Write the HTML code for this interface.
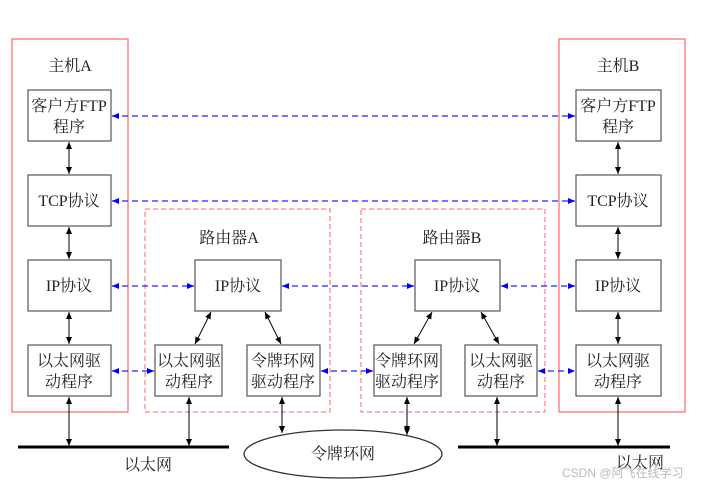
<!DOCTYPE html>
<html><head><meta charset="utf-8"><style>
body{margin:0;background:#fff}
text{font-family:"Liberation Serif","Noto Serif CJK SC",serif;fill:#222}
</style></head><body>
<svg width="702" height="485" viewBox="0 0 702 485" xmlns="http://www.w3.org/2000/svg">
<defs>
<marker id="k" markerWidth="8" markerHeight="8" refX="7" refY="4" orient="auto-start-reverse" markerUnits="userSpaceOnUse"><path d="M0,1 L7,4 L0,7 z" fill="#000"/></marker>
<marker id="b" markerWidth="8" markerHeight="8" refX="7" refY="4" orient="auto-start-reverse" markerUnits="userSpaceOnUse"><path d="M0,1 L7,4 L0,7 z" fill="#00f"/></marker>
</defs>
<rect x="12" y="39" width="116" height="373" fill="none" stroke="#f66" stroke-width="1.2"/>
<rect x="559" y="39" width="126" height="373" fill="none" stroke="#f66" stroke-width="1.2"/>
<rect x="145" y="209" width="185" height="203" fill="none" stroke="#f66" stroke-dasharray="5,3"/>
<rect x="361" y="209" width="184" height="203" fill="none" stroke="#f66" stroke-dasharray="5,3"/>
<g fill="#fff" stroke="#555" stroke-width="1.2">
<rect x="28" y="90" width="83" height="51"/><rect x="28" y="175" width="83" height="51"/>
<rect x="28" y="260" width="83" height="51"/><rect x="28" y="345" width="83" height="51"/>
<rect x="576" y="90" width="85" height="51"/><rect x="576" y="175" width="85" height="51"/>
<rect x="576" y="260" width="85" height="51"/><rect x="576" y="345" width="85" height="51"/>
<rect x="195" y="260" width="86" height="51"/><rect x="155" y="345" width="67" height="51"/><rect x="247" y="345" width="73" height="51"/>
<rect x="415" y="260" width="85" height="51"/><rect x="374" y="345" width="67" height="51"/><rect x="465" y="345" width="72" height="51"/>
</g>
<g font-size="16" text-anchor="middle">
<text x="70" y="71">主机A</text><text x="618" y="71">主机B</text>
<text x="229" y="243">路由器A</text><text x="452" y="243">路由器B</text>
<text x="69" y="111">客户方FTP</text><text x="69" y="132">程序</text>
<text x="618" y="111">客户方FTP</text><text x="618" y="132">程序</text>
<text x="69" y="206">TCP协议</text><text x="618" y="206">TCP协议</text>
<text x="69" y="291">IP协议</text><text x="618" y="291">IP协议</text>
<text x="238" y="291">IP协议</text><text x="457" y="291">IP协议</text>
<text x="69" y="366">以太网驱</text><text x="69" y="387">动程序</text>
<text x="618" y="366">以太网驱</text><text x="618" y="387">动程序</text>
<text x="189" y="366">以太网驱</text><text x="189" y="387">动程序</text>
<text x="501" y="366">以太网驱</text><text x="501" y="387">动程序</text>
<text x="283" y="366">令牌环网</text><text x="283" y="387">驱动程序</text>
<text x="407" y="366">令牌环网</text><text x="407" y="387">驱动程序</text>
<text x="148" y="470">以太网</text><text x="640" y="468">以太网</text>
</g>
<g stroke="#000" stroke-width="1" marker-start="url(#k)" marker-end="url(#k)">
<line x1="69" y1="142" x2="69" y2="174"/><line x1="69" y1="227" x2="69" y2="259"/><line x1="69" y1="312" x2="69" y2="344"/>
<line x1="618" y1="142" x2="618" y2="174"/><line x1="618" y1="227" x2="618" y2="259"/><line x1="618" y1="312" x2="618" y2="344"/>
<line x1="211" y1="312" x2="195" y2="344"/><line x1="265" y1="312" x2="281" y2="344"/>
<line x1="432" y1="312" x2="414" y2="344"/><line x1="481" y1="312" x2="499" y2="344"/>
<line x1="69" y1="397" x2="69" y2="446"/><line x1="189" y1="397" x2="189" y2="446"/>
<line x1="282" y1="397" x2="282" y2="433"/><line x1="407" y1="397" x2="407" y2="435"/>
<line x1="497" y1="397" x2="497" y2="446"/><line x1="618" y1="397" x2="618" y2="446"/>
</g>
<g stroke="#22f" stroke-width="1.2" stroke-dasharray="6,4" marker-start="url(#b)" marker-end="url(#b)">
<line x1="112" y1="116" x2="575" y2="116"/><line x1="112" y1="201" x2="575" y2="201"/>
<line x1="112" y1="286" x2="194" y2="286"/><line x1="282" y1="286" x2="414" y2="286"/><line x1="501" y1="286" x2="575" y2="286"/>
<line x1="112" y1="371" x2="154" y2="371"/><line x1="321" y1="371" x2="373" y2="371"/><line x1="538" y1="371" x2="575" y2="371"/>
</g>
<line x1="18" y1="447" x2="229" y2="447" stroke="#000" stroke-width="3"/>
<line x1="458" y1="447" x2="670" y2="447" stroke="#000" stroke-width="3"/>
<ellipse cx="343" cy="454" rx="99" ry="24" fill="#fff" stroke="#333" stroke-width="1.3"/>
<line x1="282" y1="397" x2="282" y2="433" stroke="#000" marker-end="url(#k)"/>
<line x1="407" y1="397" x2="407" y2="433" stroke="#000" marker-end="url(#k)"/>
<text x="343" y="459" font-size="16" text-anchor="middle">令牌环网</text>
<text x="562" y="477" font-size="12" style="font-family:'Liberation Sans','Noto Sans CJK SC',sans-serif;fill:#bbb">CSDN @阿飞在线学习</text>
</svg>
</body></html>
